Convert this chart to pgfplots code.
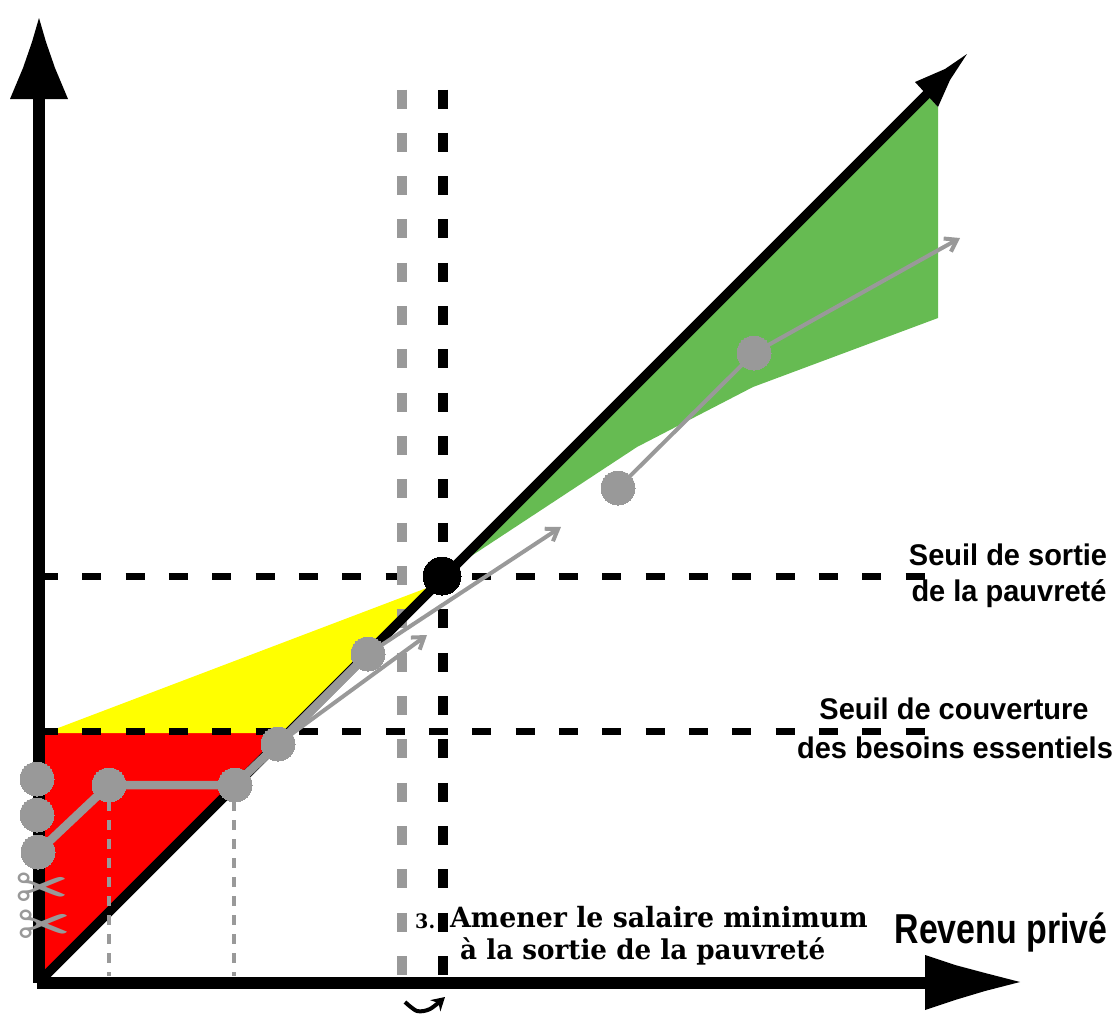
\documentclass[border=0pt]{standalone}
\usepackage{pgfplots}
\pgfplotsset{compat=1.18}
\usepackage{fontspec}
\usetikzlibrary{arrows.meta}
\setmainfont{Liberation Sans}
\newfontfamily\cond[FakeStretch=0.97]{Liberation Sans}
\newfontfamily\condb[FakeStretch=0.81]{Liberation Sans}
\newfontfamily\slab[FakeStretch=0.96]{DejaVu Serif}
\newfontfamily\sym{DejaVu Sans}
\definecolor{gr}{HTML}{999999}
\definecolor{grn}{HTML}{66BB52}
\definecolor{yel}{HTML}{FFFF00}
\definecolor{rd}{HTML}{FF0000}
\begin{document}
\begin{tikzpicture}
\begin{axis}[
  scale only axis, width=1115bp, height=1016bp,
  xmin=0, xmax=1115, ymin=0, ymax=1016, y dir=reverse,
  axis lines=none, clip=false, ticks=none,
]
% frame that fixes the picture's size
\addplot[draw=none,forget plot] coordinates {(0,0) (1115,1016)};
% zones
\addplot[fill=rd,draw=none] coordinates {(45,733) (288,733) (38,983) (38,733)} -- cycle;
\addplot[fill=yel,draw=none] coordinates {(45,733) (432,586) (288,733)} -- cycle;
\addplot[fill=grn,draw=none] coordinates {(450,570) (929,97) (938,107) (938,318) (753,387) (637,447)} -- cycle;
% thresholds
\addplot[black,line width=6.5bp,dash pattern=on 19bp off 24.33bp] coordinates {(39,576.5) (925,576.5)};
\addplot[black,line width=6.5bp,dash pattern=on 19bp off 24.33bp] coordinates {(39,731.5) (930,731.5)};
\addplot[black,line width=10bp,dash pattern=on 19bp off 24.33bp] coordinates {(443,89.5) (443,977)};
\addplot[gr,line width=10bp,dash pattern=on 19bp off 24.33bp] coordinates {(402,89.5) (402,977)};
% axes
\addplot[black,line width=12bp] coordinates {(39,99) (39,983)};
\addplot[black,line width=12bp] coordinates {(37,982.5) (930,982.5)};
\addplot[fill=black,draw=none] coordinates {(39,18) (46,42) (55,68) (68,99) (10,99) (23,68) (32,42)} -- cycle;
\addplot[fill=black,draw=none] coordinates {(1020,982) (985,973) (955,965) (925,955) (925,1010) (955,1000) (985,991)} -- cycle;
% diagonal
\addplot[black,line width=9.5bp] coordinates {(41,980) (927,94)};
\addplot[fill=black,draw=none] coordinates {(967,54) (945,69) (915,82) (927,95) (938,107) (950,80)} -- cycle;
% small dashes
\addplot[gr,line width=4.5bp,dash pattern=on 9.5bp off 9.5bp] coordinates {(109,782) (109,976)};
\addplot[gr,line width=4.5bp,dash pattern=on 9.5bp off 9.5bp] coordinates {(234,782) (234,976)};
% thin arrows
\addplot[gr,line width=4bp,-{Straight Barb[length=11bp,width=15bp,line width=4bp]}] coordinates {(368,654) (561,527)};
\addplot[gr,line width=4bp,-{Straight Barb[length=11bp,width=15bp,line width=4bp]}] coordinates {(278,744) (427,635)};
\addplot[gr,line width=4bp,-{Straight Barb[length=11bp,width=15bp,line width=4bp]}] coordinates {(618,488) (754,353) (960,238)};
% thick path
\addplot[gr,line width=8.5bp] coordinates {(38,852) (109,785) (235,785) (278,744) (368,654)};
\addplot[only marks,gr,mark=*,mark size=17bp,mark options={fill=gr,draw=gr,line width=0pt}] coordinates {(37,779) (37,815) (38,852) (109,785) (235,785) (278,744) (368,654) (618,488) (754,353)};
\addplot[only marks,black,mark=*,mark size=19bp,mark options={fill=black,draw=black,line width=0pt}] coordinates {(442,576)};
% swoosh
\addplot[black,line width=4bp,smooth,-{Stealth[length=13bp,width=15bp]}] coordinates {(405,1002) (417,1011) (430,1009) (445,997)};
% texts
\node[text=gr,inner sep=0pt] at (axis cs:42,892) {\sym\bfseries\fontsize{64}{36}\selectfont ✂};
\node[text=gr,inner sep=0pt] at (axis cs:44,929) {\sym\bfseries\fontsize{64}{36}\selectfont ✂};
\node[inner sep=0pt] at (axis cs:1008,555) {\cond\bfseries\fontsize{30}{30}\selectfont Seuil de sortie};
\node[inner sep=0pt] at (axis cs:1009,594) {\cond\bfseries\fontsize{30}{30}\selectfont de la pauvreté};
\node[inner sep=0pt] at (axis cs:954,709) {\cond\bfseries\fontsize{30}{30}\selectfont Seuil de couverture};
\node[inner sep=0pt] at (axis cs:955,748) {\cond\bfseries\fontsize{30}{30}\selectfont des besoins essentiels};
\node[inner sep=0pt] at (axis cs:1001,932) {\condb\bfseries\fontsize{42}{42}\selectfont Revenu privé};
\node[anchor=west,inner sep=0pt] at (axis cs:415,921) {\slab\bfseries\fontsize{20}{20}\selectfont 3.};
\node[anchor=west,inner sep=0pt] at (axis cs:450,917) {\slab\bfseries\fontsize{28}{28}\selectfont Amener le salaire minimum};
\node[anchor=west,inner sep=0pt] at (axis cs:460,951) {\slab\bfseries\fontsize{27.4}{28}\selectfont à la sortie de la pauvreté};
\end{axis}
\end{tikzpicture}
\end{document}
